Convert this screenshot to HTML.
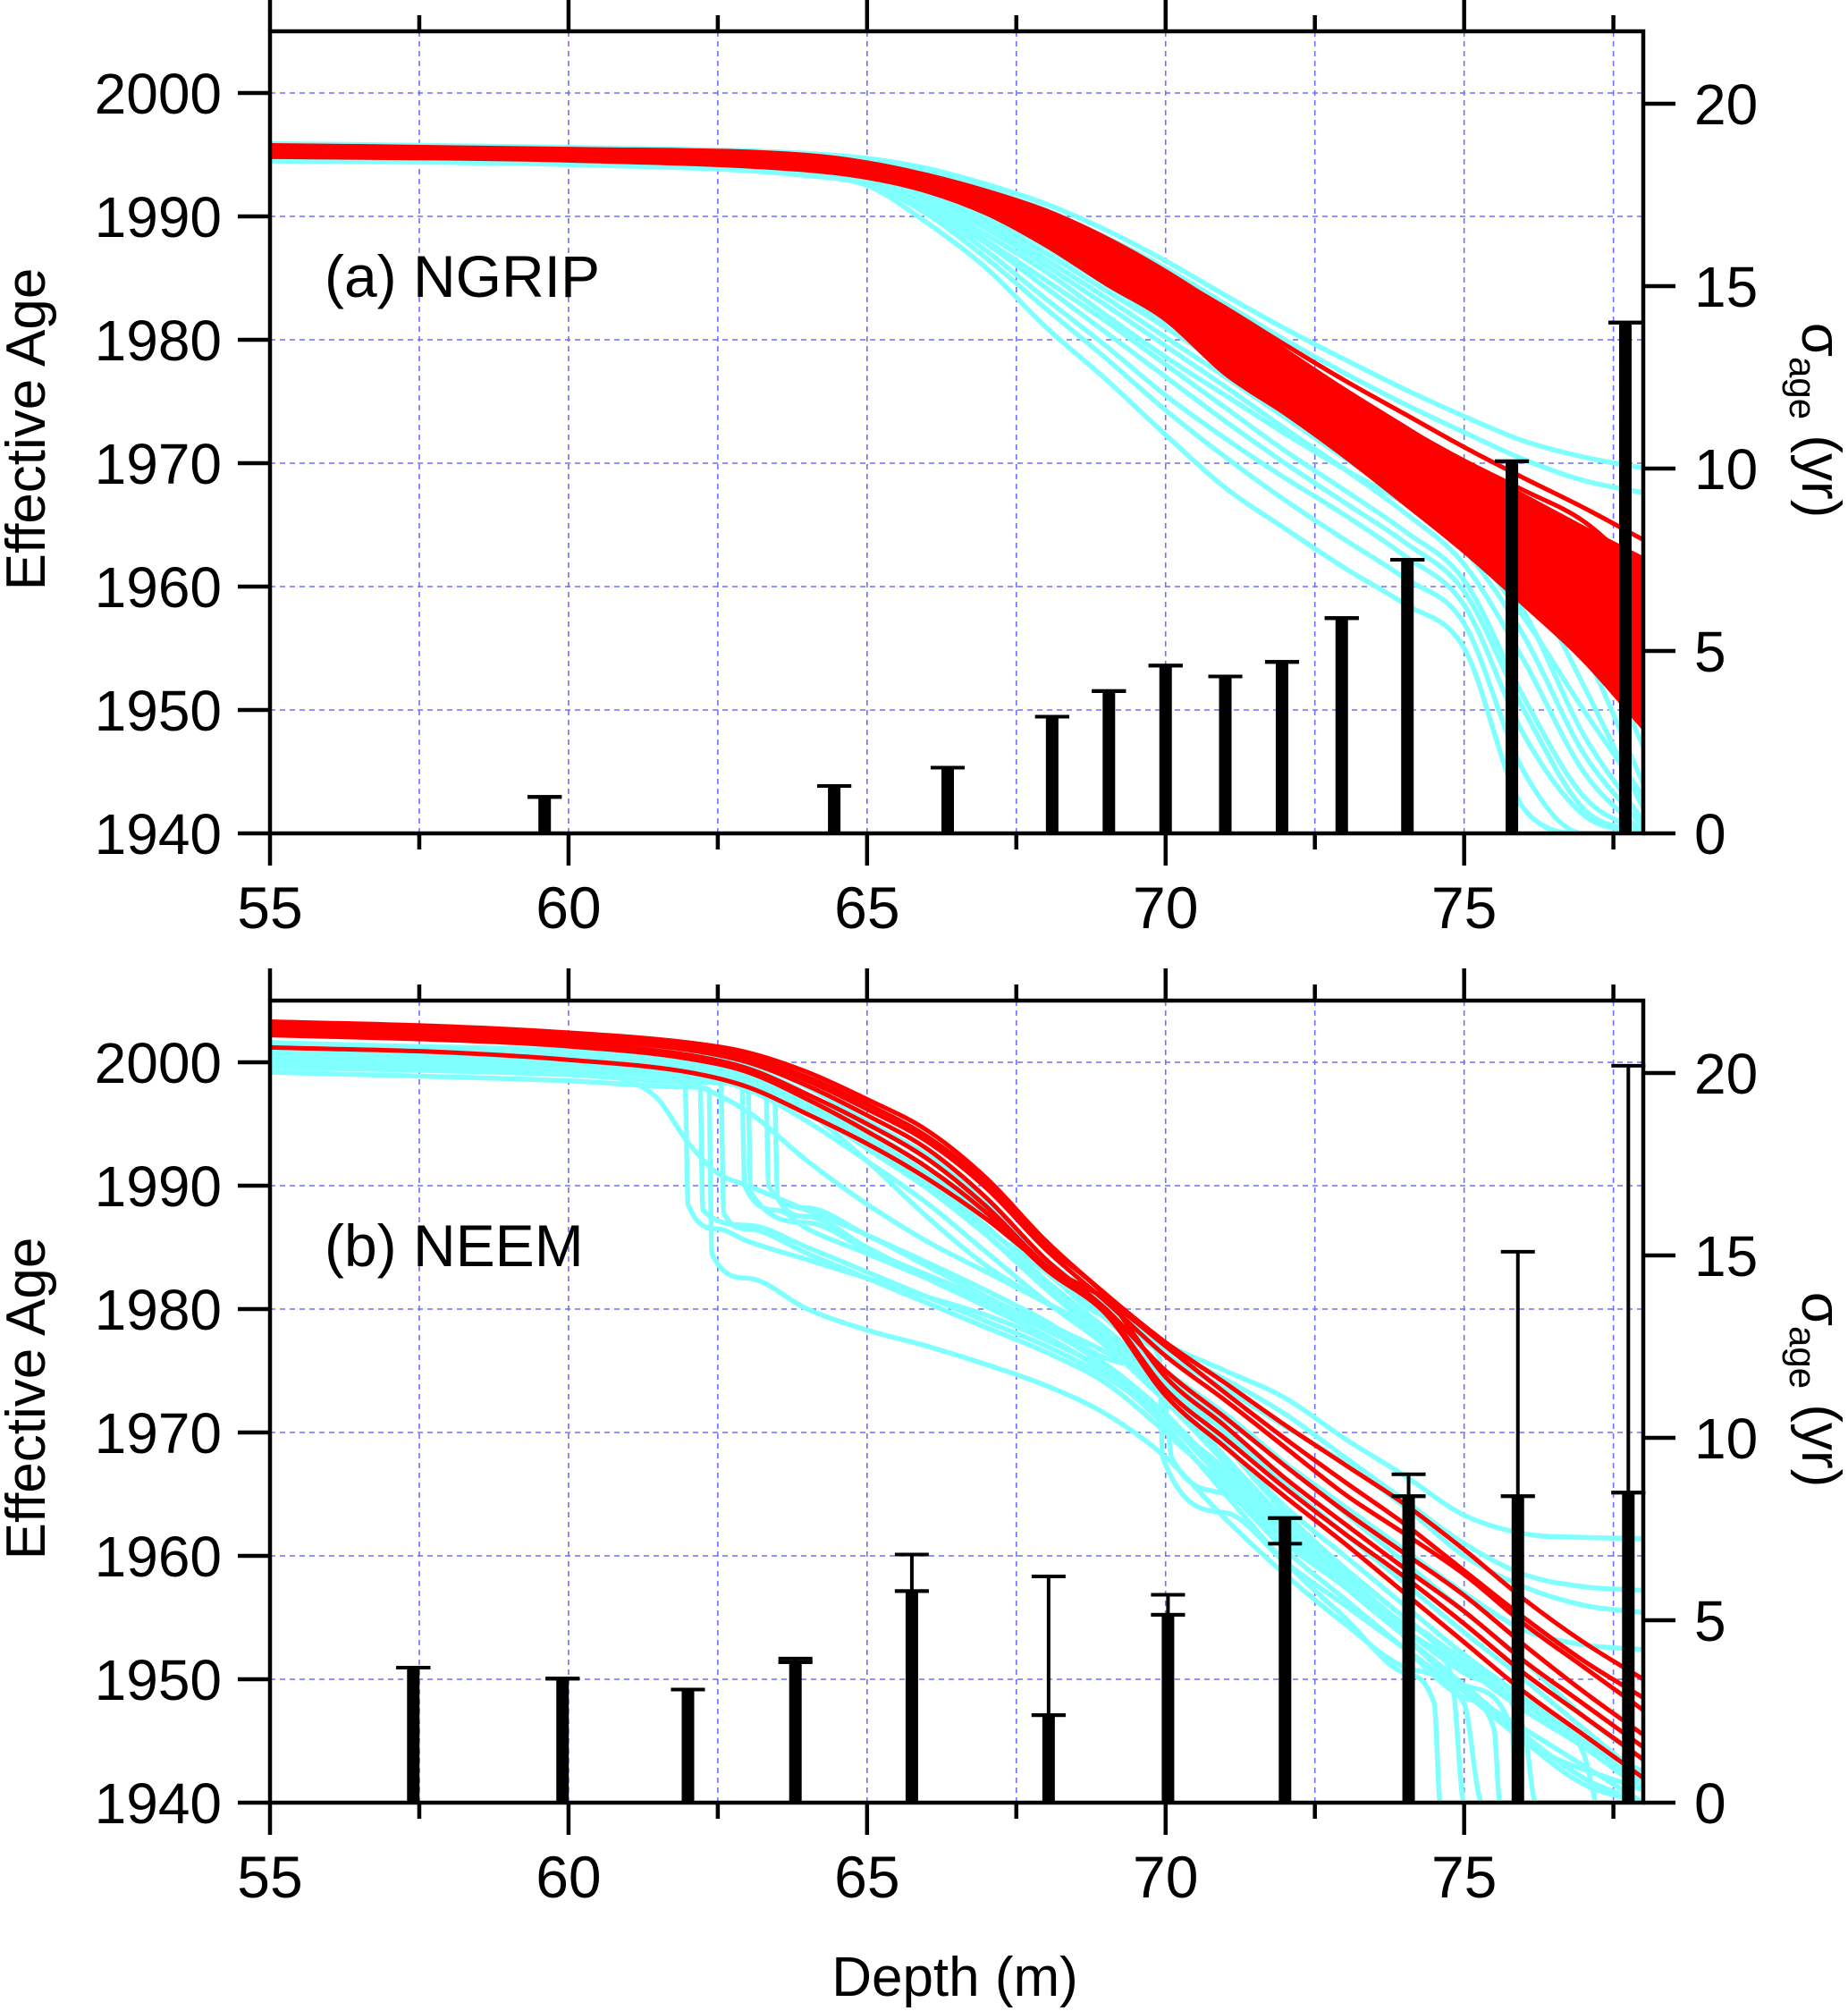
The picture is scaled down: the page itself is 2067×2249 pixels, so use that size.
<!DOCTYPE html>
<html><head><meta charset="utf-8"><style>
html,body{margin:0;padding:0;background:#fff;}
svg{display:block;font-family:"Liberation Sans",Arial,sans-serif;}
</style></head><body>
<svg id="chart" width="2067" height="2249" viewBox="0 0 2067 2249" xmlns="http://www.w3.org/2000/svg">
<defs>
<clipPath id="clipA"><rect x="302" y="35" width="1536" height="897"/></clipPath>
<clipPath id="clipB"><rect x="302" y="1119" width="1536" height="897"/></clipPath>
</defs>
<rect width="2067" height="2249" fill="#fff"/>
<g id="layer"></g>
</svg>
<script>
// ---------- data ----------
const yearTicks = [1940,1950,1960,1970,1980,1990,2000];
const depthTicks = [55,60,65,70,75];
const sigmaTicks = [0,5,10,15,20];
const D = [55,60,64,65,66,67,68,69,70,71,72,73,74,75,76,77,78];

// Panel (a) NGRIP
const redUpperA = [1995.8,1995.5,1995.0,1994.4,1993.4,1992.1,1990.5,1988.3,1985.6,1982.5,1979.2,1976.0,1973.0,1970.0,1967.4,1964.8,1962.3];
const redLowerA = [1994.8,1994.5,1993.7,1993.1,1992.0,1990.2,1987.6,1984.5,1981.6,1977.2,1974.0,1970.5,1966.7,1962.8,1958.5,1954.0,1948.5];
const redLineA1 = [1995.6,1995.3,1994.8,1994.3,1993.3,1991.9,1990.2,1988.0,1985.4,1982.6,1979.6,1976.7,1974.0,1971.3,1968.8,1966.4,1963.8];
const redLineA2 = [1995.4,1995.1,1994.6,1994.0,1993.0,1991.5,1989.6,1987.2,1984.4,1981.2,1978.0,1974.8,1971.7,1968.6,1965.5,1962.5,1959.5];
const redLineA3 = [1995.5,1995.2,1994.7,1994.1,1993.1,1991.7,1989.9,1987.6,1984.9,1981.9,1978.8,1975.8,1972.9,1970.2,1967.8,1965.3,1961.0];
const cyanA1 = [1995.9,1995.6,1995.1,1994.7,1993.9,1992.6,1991.0,1988.9,1986.4,1983.6,1980.9,1978.4,1976.0,1973.8,1971.8,1970.5,1969.6];
const cyanA2 = [1995.8,1995.5,1995.0,1994.5,1993.6,1992.2,1990.5,1988.3,1985.8,1982.9,1980.0,1977.3,1974.8,1972.5,1970.3,1968.6,1967.6];
const cyanA3 = [1995.0,1994.8,1994.2,1993.8,1992.5,1990.5,1988.0,1985.2,1982.3,1979.3,1976.3,1973.4,1970.5,1967.5,1963.5,1955.0,1944.0];
const cyanA4 = [1994.8,1994.6,1994.0,1993.5,1992.0,1989.8,1987.0,1984.0,1981.0,1977.8,1974.6,1971.4,1968.2,1964.5,1958.0,1948.0,1941.0];
const cyanA5 = [1994.7,1994.5,1993.8,1993.2,1991.5,1989.0,1986.0,1982.8,1979.5,1976.2,1972.8,1969.5,1966.0,1961.8,1954.0,1945.0,1940.0];
const cyanA6 = [1994.6,1994.4,1993.6,1993.0,1991.0,1988.0,1984.8,1981.5,1978.0,1974.5,1971.0,1967.8,1964.5,1960.5,1951.0,1943.0,1940.0];
const cyanA7 = [1994.6,1994.3,1993.5,1992.8,1990.6,1987.2,1983.3,1979.5,1975.5,1972.0,1968.8,1965.8,1962.5,1958.5,1948.0,1941.5,1940.0];
const cyanA8 = [1994.5,1994.2,1993.3,1992.5,1989.5,1985.8,1981.0,1976.8,1972.3,1968.0,1964.7,1961.5,1958.6,1955.0,1942.0,1940.0,1940.0];
const cyanA9 = [1994.7,1994.4,1993.7,1993.1,1991.2,1988.5,1985.5,1982.0,1978.6,1975.5,1972.4,1969.5,1966.8,1963.5,1957.5,1950.0,1943.0];
const cyanA10 = [1995.2,1995.0,1994.5,1994.1,1993.0,1991.3,1989.0,1986.3,1983.5,1980.4,1977.3,1974.3,1971.5,1968.7,1965.2,1960.0,1950.0];
const cyanA11 = [1994.9,1994.7,1994.1,1993.7,1992.3,1990.2,1987.5,1984.5,1981.5,1978.5,1975.3,1972.2,1969.3,1966.3,1961.0,1952.0,1942.0];
const cyanA12 = [1994.8,1994.5,1993.9,1993.4,1991.8,1989.4,1986.5,1983.4,1980.2,1977.0,1973.7,1970.4,1967.2,1963.0,1956.0,1946.5,1940.5];
const cyanA13 = [1995.5,1995.2,1994.7,1994.2,1993.2,1991.6,1989.6,1987.0,1984.2,1981.2,1978.0,1974.8,1971.8,1968.8,1966.0,1962.0,1953.0];
const cyanA14 = [1995.1,1994.9,1994.3,1993.9,1992.7,1990.8,1988.4,1985.6,1982.7,1979.7,1976.6,1973.5,1970.5,1967.5,1964.0,1958.0,1947.0];
const cyanA15 = [1994.6,1994.3,1993.5,1992.9,1990.8,1987.8,1984.2,1980.6,1977.0,1973.4,1970.0,1966.8,1963.6,1959.6,1950.0,1942.0,1940.0];
const cyanA16 = [1994.5,1994.3,1993.4,1992.7,1990.2,1986.6,1982.5,1978.5,1974.3,1970.5,1967.0,1963.8,1960.7,1957.0,1945.0,1940.0,1940.0];
const cyanA17 = [1995.3,1995.0,1994.5,1994.0,1992.8,1991.0,1988.7,1986.0,1983.0,1980.0,1977.0,1974.0,1971.0,1968.0,1964.8,1960.5,1955.0];
const barDepthA = [59.6,64.45,66.35,68.1,69.05,70.0,71.0,71.95,72.95,74.05,75.8,77.7];
const barValueA = [1.0,1.3,1.8,3.2,3.9,4.6,4.3,4.7,5.9,7.5,10.2,14.0];

// Panel (b) NEEM
const D2 = [55,58,60,62,63,64,65,66,67,68,69,70,71,72,73,74,75,76,77,78];
const redB1 = [2003.3,2002.9,2002.4,2001.6,2000.8,1999.2,1997.0,1994.5,1990.6,1985.5,1981.2,1977.3,1974.0,1970.6,1967.4,1964.2,1960.5,1956.5,1953.0,1950.0];
const redB2 = [2003.0,2002.6,2002.1,2001.2,2000.3,1998.5,1996.2,1993.6,1989.8,1984.8,1980.6,1976.2,1972.6,1968.8,1965.0,1961.8,1958.5,1954.5,1951.0,1947.5];
const redB3 = [2002.8,2002.4,2001.9,2001.0,2000.0,1998.1,1995.7,1993.0,1989.0,1984.0,1980.0,1975.0,1971.2,1967.3,1963.6,1960.2,1956.8,1952.8,1949.0,1945.5];
const redB4 = [2002.5,2002.1,2001.6,2000.6,1999.5,1997.4,1995.0,1992.2,1988.3,1983.5,1979.8,1973.5,1969.5,1965.5,1961.8,1958.3,1954.5,1950.5,1947.0,1943.5];
const redB5 = [2003.1,2002.7,2002.2,2001.4,2000.5,1998.8,1996.6,1994.0,1990.2,1985.2,1981.0,1974.5,1970.5,1966.3,1962.6,1959.0,1955.5,1951.5,1948.0,1944.5];
const redB6 = [2001.2,2000.8,2000.2,1999.2,1998.0,1995.8,1993.4,1990.6,1987.3,1983.5,1980.8,1977.0,1973.2,1969.5,1966.0,1962.6,1958.8,1955.0,1951.5,1948.5];
const redB7 = [2002.2,2001.8,2001.3,2000.3,1999.2,1997.0,1994.4,1991.5,1987.8,1983.2,1979.6,1973.0,1968.8,1964.8,1961.0,1957.0,1953.0,1949.0,1945.5,1942.0];
const cyanB1d = [55,60,62,63,64,65,66,67,68,69,70,71,72,73,74,75,76,77,78];
const cyanB1 = [2001.5,2001.0,2000.6,2000.0,1998.0,1995.2,1992.5,1988.8,1984.0,1980.5,1977.2,1975.0,1972.8,1969.5,1966.5,1963.3,1961.8,1961.5,1961.4];
const cyanB2 = [2001.0,2000.5,2000.0,1999.2,1997.0,1994.0,1991.0,1987.5,1983.5,1979.5,1976.3,1973.5,1970.5,1967.5,1964.0,1960.0,1957.5,1956.0,1955.4];
const cyanB3 = [2000.6,2000.1,1999.5,1998.5,1996.2,1993.0,1989.8,1986.0,1982.0,1978.0,1974.5,1971.0,1967.5,1964.0,1960.5,1957.0,1954.0,1952.8,1952.4];
const cyanB4d = [55,60,61.5,61.95,62.0,62.5,63,64,65,66,67,68,69,70,71,72,73,74,74.8,75,78];
const cyanB4 = [2000.2,1999.5,1999.0,1998.5,1988.5,1986.5,1985.5,1984.0,1982.5,1981.0,1979.5,1977.5,1975.0,1971.0,1967.0,1962.5,1958.5,1954.5,1950.0,1940.0,1940.0];
const cyanB5d = [55,60,62,62.35,62.4,63,64,65,66,67,68,69,70,71,72,73,74,75,75.3,78];
const cyanB5 = [1999.2,1998.5,1998.0,1997.8,1984.5,1982.5,1980.0,1978.3,1977.0,1975.5,1973.8,1971.5,1968.0,1963.0,1958.5,1954.5,1951.0,1948.0,1940.0,1940.0];
const cyanB6d = [55,60,62,62.9,62.95,63.5,64,65,66,67,68,69,70,71,72,73,74,75,76,76.2,78];
const cyanB6 = [2000.4,1999.8,1999.2,1998.6,1990.0,1988.0,1986.5,1984.5,1982.5,1980.5,1978.3,1975.5,1971.5,1966.5,1962.0,1958.0,1954.0,1950.5,1946.0,1940.0,1940.0];
const cyanB7d = [55,60,62,63.3,63.35,64,65,66,67,68,69,70,70.1,71,72,73,74,75,76,77,77.2];
const cyanB7 = [2001.0,2000.4,1999.8,1999.0,1990.0,1988.2,1986.0,1983.8,1981.5,1979.0,1976.0,1972.0,1968.0,1965.0,1961.0,1957.5,1954.0,1951.0,1948.0,1944.0,1940.0];
const cyanB8d = [55,60,62,63.45,63.5,64,65,66,67,68,69,70,71,72,73,74,74.5,74.6,78];
const cyanB8 = [1999.6,1999.0,1998.4,1997.5,1989.0,1987.5,1985.0,1982.5,1980.2,1977.8,1974.8,1970.5,1965.0,1959.5,1955.0,1950.5,1948.0,1940.0,1940.0];
const cyanB9d = [55,60,61,61.5,62,62.5,63,64,65,66,67,68,69,70,71,72,73,74,75,76,78];
const cyanB9 = [1999.8,1999.2,1998.5,1997.0,1993.5,1991.0,1990.0,1988.0,1986.0,1983.5,1981.0,1978.5,1975.3,1971.0,1966.5,1962.0,1958.0,1953.5,1949.5,1945.0,1941.0];
const cyanB10d = [55,60,62,62.55,62.6,63,64,65,66,67,68,69,70,71,72,73,74,75,75.5,75.6,78];
const cyanB10 = [2000.0,1999.4,1998.8,1998.2,1987.8,1986.5,1984.5,1982.5,1980.5,1978.5,1976.5,1974.0,1970.0,1965.5,1960.5,1956.5,1952.5,1948.5,1946.0,1940.0,1940.0];
const cyanB11 = [2001.6,2001.2,2000.8,2000.0,1999.1,1997.3,1994.5,1991.5,1987.5,1983.0,1979.2,1975.0,1971.5,1967.5,1963.5,1959.5,1955.5,1951.5,1947.0,1943.5];
const cyanB12 = [2001.2,2000.8,2000.3,1999.5,1998.4,1996.3,1993.3,1990.0,1986.0,1981.6,1977.6,1973.8,1969.0,1964.0,1960.0,1956.0,1952.0,1948.5,1945.0,1941.5];
const cyanB13 = [2000.8,2000.3,1999.8,1999.0,1997.8,1995.2,1992.0,1988.6,1984.6,1980.6,1977.0,1972.5,1967.5,1962.0,1957.5,1953.5,1949.5,1945.5,1942.0,1940.0];
const cyanB14d = [55,60,62,63,64,65,66,67,68,69,69.9,69.95,71,72,73,74,75,76,77,78];
const cyanB14 = [2000.5,2000.0,1999.4,1998.6,1996.6,1993.5,1990.0,1986.5,1983.0,1979.5,1976.0,1968.0,1963.5,1959.5,1956.0,1952.5,1949.0,1946.0,1943.0,1940.0];
const cyanB15 = [2001.3,2000.9,2000.4,1999.6,1998.5,1996.0,1992.0,1987.5,1983.5,1980.5,1977.5,1973.0,1968.0,1962.5,1958.0,1953.5,1949.0,1945.0,1941.5,1940.0];
const cyanB16d = [55,60,62,63.0,63.05,64,65,66,67,68,69,70,71,72,73,74,75,76,77,78];
const cyanB16 = [2000.9,2000.3,1999.7,1999.0,1989.5,1987.0,1984.8,1982.8,1980.8,1978.8,1976.5,1973.5,1968.0,1963.0,1959.0,1955.0,1951.0,1947.5,1944.5,1941.0];
const cyanB17 = [2000.3,1999.9,1999.4,1998.3,1996.0,1992.0,1988.5,1985.5,1983.0,1980.5,1978.0,1974.5,1969.0,1963.5,1959.0,1955.0,1951.5,1948.0,1945.0,1942.5];
const cyanB18d = [55,60,62,62.2,62.25,63,64,65,66,67,68,69,70,71,72,73,74,75,75.8,75.9,78];
const cyanB18 = [2000.1,1999.6,1999.0,1998.8,1988.0,1986.8,1985.0,1983.0,1981.0,1979.0,1977.0,1974.5,1971.0,1966.0,1961.5,1957.5,1953.5,1949.5,1946.0,1940.0,1940.0];
const cyanB19 = [2001.4,2000.9,2000.4,1999.6,1997.4,1994.5,1991.5,1988.0,1983.8,1980.0,1976.8,1974.3,1971.5,1968.0,1964.5,1961.0,1958.5,1957.5,1957.2];
const cyanB20 = [2001.5,2001.1,2000.7,1999.8,1998.8,1996.8,1993.8,1990.5,1986.7,1982.3,1978.4,1974.2,1970.0,1965.8,1961.8,1957.8,1953.8,1950.0,1946.0,1942.0];
const barDepthB = [57.4,59.9,62.0,63.8,65.75,68.04,70.04,72.0,74.07,75.9,77.75];
const barValueB = [3.7,3.4,3.1,3.85,5.8,2.4,5.15,7.8,8.4,8.4,8.5];
const barErrUpB = [0,0,0,0.1,1.0,3.8,0.55,0,0.6,6.7,11.7];
const barErrDownB = [0,0,0,0,0,0,0,0.7,0,0,0];

// ---------- axes ----------
const X0=302, X1=1838, DMIN=55, DMAX=78;
function X(d){return X0+(d-DMIN)*(X1-X0)/(DMAX-DMIN);}
const panels=[{top:35,bot:932,clip:'clipA',name:'ngrip'},{top:1119,bot:2016,clip:'clipB',name:'neem'}];
function Yf(p){return yr=>p.bot-(yr-1940)*(p.bot-p.top)/65;}
function Rf(p){return v=>p.bot-v*40.8;}

const NS='http://www.w3.org/2000/svg';
const layer=document.getElementById('layer');
function el(tag,attrs,parent){const e=document.createElementNS(NS,tag);for(const k in attrs)e.setAttribute(k,attrs[k]);(parent||layer).appendChild(e);return e;}

function monoPath(xs,ys,fx,fy){
  const n=xs.length,m=[],t=[];
  for(let i=0;i<n-1;i++)m.push((ys[i+1]-ys[i])/(xs[i+1]-xs[i]));
  t[0]=m[0];t[n-1]=m[n-2];
  for(let i=1;i<n-1;i++)t[i]=(m[i-1]*m[i]<=0)?0:(m[i-1]+m[i])/2;
  for(let i=0;i<n-1;i++){
    if(m[i]===0){t[i]=0;t[i+1]=0;continue;}
    const a=t[i]/m[i],b=t[i+1]/m[i],s=a*a+b*b;
    if(s>9){const tau=3/Math.sqrt(s);t[i]=tau*a*m[i];t[i+1]=tau*b*m[i];}
  }
  let d='M'+fx(xs[0]).toFixed(1)+','+fy(ys[0]).toFixed(1);
  for(let i=0;i<n-1;i++){
    const h=xs[i+1]-xs[i];
    d+='C'+fx(xs[i]+h/3).toFixed(1)+','+fy(ys[i]+t[i]*h/3).toFixed(1)+' '+fx(xs[i+1]-h/3).toFixed(1)+','+fy(ys[i+1]-t[i+1]*h/3).toFixed(1)+' '+fx(xs[i+1]).toFixed(1)+','+fy(ys[i+1]).toFixed(1);
  }
  return d;
}

function drawPanel(pi,cyan,redLines,redBand,bars){
  const p=panels[pi],Y=Yf(p),R=Rf(p);
  const g=el('g',{});
  
  
  for(let d=57.5;d<DMAX;d+=2.5){
    const l=el('line',{x1:X(d),x2:X(d),y1:p.top,y2:p.bot,stroke:'#6f6fff','stroke-width':1.6,'stroke-dasharray':'6,5'},g);
    
    
  }
  yearTicks.forEach(yr=>{
    if(yr===1940)return;
    const l=el('line',{x1:X0,x2:X1,y1:Y(yr),y2:Y(yr),stroke:'#6f6fff','stroke-width':1.6,'stroke-dasharray':'6,5'},g);
    
    
  });
  const cg=el('g',{'clip-path':'url(#'+p.clip+')'},g);
  
  
  cyan.forEach(c=>{
    const pa=el('path',{d:monoPath(c[0],c[1].map(v=>Math.max(v,1939.5)),X,Y),fill:'none',stroke:'#80ffff','stroke-width':5.5,'stroke-linejoin':'round'},cg);
    
    
  });
  if(redBand){
    const up=monoPath(D,redBand[0],X,Y);
    const lowRev=monoPath(D.slice().reverse(),redBand[1].slice().reverse(),X,Y).replace(/^M/,'L');
    const b=el('path',{d:up+lowRev+'Z',fill:'#ff0000',stroke:'#ff0000','stroke-width':4},cg);
    
    
  }
  redLines.forEach(c=>{
    const pa=el('path',{d:monoPath(c[0],c[1],X,Y),fill:'none',stroke:'#ff0000','stroke-width':5,'stroke-linejoin':'round'},cg);
    
    
  });
  const bd=bars[0],bv=bars[1],eu=bars[2],ed=bars[3];
  bd.forEach((d,i)=>{
    const x=X(d);
    const r=el('rect',{x:x-7,y:R(bv[i]),width:14,height:p.bot-R(bv[i]),fill:'#000'},g);
    
    
    const top=bv[i]+(eu?eu[i]:0),low=bv[i]-(ed?ed[i]:0);
    if(top>bv[i]){
      const l=el('line',{x1:x,x2:x,y1:R(bv[i]),y2:R(top),stroke:'#000','stroke-width':4},g);
      
      
    }
    [top,bv[i],low].forEach(v=>{
      const c=el('line',{x1:x-19,x2:x+19,y1:R(v),y2:R(v),stroke:'#000','stroke-width':4},g);
      
      
    });
  });
  const fr=el('rect',{x:X0,y:p.top,width:X1-X0,height:p.bot-p.top,fill:'none',stroke:'#000','stroke-width':4.5},g);
  
  
  for(let d=DMIN;d<=DMAX+0.01;d+=2.5){
    const major=(d%5===0),len=major?36:18;
    const t1=el('line',{x1:X(d),x2:X(d),y1:p.bot,y2:p.bot+len,stroke:'#000','stroke-width':4.5},g);
    
    
    const t2=el('line',{x1:X(d),x2:X(d),y1:p.top,y2:p.top-len,stroke:'#000','stroke-width':4.5},g);
    
    
  }
  depthTicks.forEach(d=>{
    const t=el('text',{x:X(d),y:p.bot+106,'font-size':66,'text-anchor':'middle'},g);
    t.textContent=d;
    
    
  });
  yearTicks.forEach(yr=>{
    const l=el('line',{x1:X0-36,x2:X0,y1:Y(yr),y2:Y(yr),stroke:'#000','stroke-width':4.5},g);
    
    
    const t=el('text',{x:248,y:Y(yr)+23,'font-size':64,'text-anchor':'end'},g);
    t.textContent=yr;
    
    
  });
  sigmaTicks.forEach(v=>{
    const l=el('line',{x1:X1,x2:X1+36,y1:R(v),y2:R(v),stroke:'#000','stroke-width':4.5},g);
    
    
    const t=el('text',{x:1895,y:R(v)+23,'font-size':64},g);
    t.textContent=v;
    
    
  });
  const off=p.top-35;
  const ya=el('text',{transform:'translate(50,'+(480+off)+') rotate(-90)','font-size':62,'text-anchor':'middle'},g);
  ya.textContent='Effective Age';
  
  
  const ra=el('text',{transform:'translate(2016,'+(470+off)+') rotate(90)','font-size':62,'text-anchor':'middle'},g);
  
  
  const s1=el('tspan',{},ra);s1.textContent='σ';
  const s2=el('tspan',{'font-size':42,dy:14},ra);s2.textContent='age';
  const s3=el('tspan',{dy:-14},ra);s3.textContent=' (yr)';
  const pl=el('text',{x:363,y:332+off,'font-size':66},g);
  pl.textContent=pi===0?'(a) NGRIP':'(b) NEEM';
  
  
}

drawPanel(0,
  [[D,cyanA1],[D,cyanA2],[D,cyanA3],[D,cyanA4],[D,cyanA5],[D,cyanA6],[D,cyanA7],[D,cyanA8],[D,cyanA9],[D,cyanA10],[D,cyanA11],[D,cyanA12],[D,cyanA13],[D,cyanA14],[D,cyanA15],[D,cyanA16],[D,cyanA17]],
  [[D,redLineA1],[D,redLineA2],[D,redLineA3]],
  [redUpperA,redLowerA],
  [barDepthA,barValueA,null,null]);
drawPanel(1,
  [[cyanB1d,cyanB1],[cyanB1d,cyanB2],[cyanB1d,cyanB3],[cyanB4d,cyanB4],[cyanB5d,cyanB5],[cyanB6d,cyanB6],[cyanB7d,cyanB7],[cyanB8d,cyanB8],[cyanB9d,cyanB9],[cyanB10d,cyanB10],[D2,cyanB11],[D2,cyanB12],[D2,cyanB13],[cyanB14d,cyanB14],[D2,cyanB15],[cyanB16d,cyanB16],[D2,cyanB17],[cyanB18d,cyanB18],[cyanB1d,cyanB19],[D2,cyanB20]],
  [[D2,redB1],[D2,redB2],[D2,redB3],[D2,redB4],[D2,redB5],[D2,redB6],[D2,redB7]],
  null,
  [barDepthB,barValueB,barErrUpB,barErrDownB]);

const xt=el('text',{x:1068,y:2232,'font-size':62,'text-anchor':'middle'});
xt.textContent='Depth (m)';


</script>
</body></html>
